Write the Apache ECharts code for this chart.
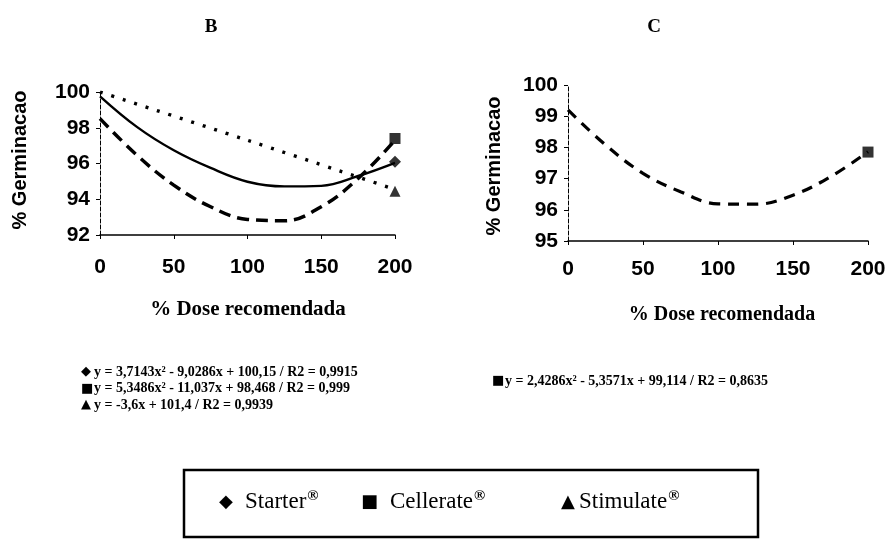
<!DOCTYPE html>
<html><head><meta charset="utf-8">
<script src="https://cdn.jsdelivr.net/npm/echarts@6/dist/echarts.min.js"></script>
<style>html,body{margin:0;padding:0;background:#fff}#c{width:890px;height:540px}</style>
</head><body><div id="c"></div>
<script>
// ---- data ----
const doses = [0, 25, 50, 75, 100, 125, 150, 175, 200];
const starterB = [99.76, 98.05, 96.74, 95.75, 94.98, 94.72, 94.75, 95.3, 96.04];
const cellerateB = [98.51, 96.47, 94.79, 93.58, 92.87, 92.8, 93.58, 95.16, 97.3];
const stimulateDoses = [0, 100, 200];
const stimulateB = [100, 97.3, 94.55];
const cellerateC = [99.2, 98.08, 97.17, 96.58, 96.19, 96.18, 96.47, 97.06, 97.86];
const markerDose = [200];
const starterMarkerB = [96.1];
const cellerateMarkerB = [97.4];
const stimulateMarkerB = [94.45];
const cellerateMarkerC = [97.85];
const yTicksB = [92, 94, 96, 98, 100];
const yTicksC = [95, 96, 97, 98, 99, 100];
const xTicks = [0, 50, 100, 150, 200];
const panelTitles = ['B', 'C'];
const yName = '% Germinacao';
const xName = '% Dose recomendada';
const eqB = [
  ['◆', 'y = 3,7143x² - 9,0286x + 100,15 / R2 = 0,9915'],
  ['■', 'y = 5,3486x² - 11,037x + 98,468 / R2 = 0,999'],
  ['▲', 'y = -3,6x + 101,4 / R2 = 0,9939']
];
const eqC = [['■', 'y = 2,4286x² - 5,3571x + 99,114 / R2 = 0,8635']];
const legendNames = ['Starter', 'Cellerate', 'Stimulate'];
const legendSymbols = ['◆', '■', '▲'];

// ---- build ----
const pairs = (xs, ys) => xs.map((x, i) => [x, ys[i]]);
const sans = 'Liberation Sans, Arial, sans-serif';
const serif = 'Liberation Serif, Times New Roman, serif';

function xAxis(gi, margin) {
  return {
    type: 'value', gridIndex: gi, min: 0, max: 200, interval: 50,
    axisLine: { lineStyle: { color: '#000', width: 1.5 } },
    axisTick: { show: true, length: 4, lineStyle: { color: '#000' } },
    splitLine: { show: false },
    axisLabel: { color: '#000', fontFamily: sans, fontWeight: 'bold', fontSize: 21, margin: margin,
      formatter: v => xTicks.includes(v) ? String(v) : '' }
  };
}
function yAxis(gi, ticks) {
  return {
    type: 'value', gridIndex: gi, min: ticks[0], max: ticks[ticks.length - 1],
    interval: ticks[1] - ticks[0],
    axisLine: { show: true, lineStyle: { color: '#000', width: 1, type: [4, 2] } },
    axisTick: { show: true, length: 4, lineStyle: { color: '#000' } },
    splitLine: { show: false },
    axisLabel: { color: '#000', fontFamily: sans, fontWeight: 'bold', fontSize: 21, margin: 10 }
  };
}
function lineSeries(name, gi, data, style) {
  return { name: name, type: 'line', xAxisIndex: gi, yAxisIndex: gi, data: data, smooth: 0.4,
    showSymbol: false, symbol: 'none', lineStyle: Object.assign({ color: '#000' }, style),
    animation: false, z: 2 };
}
function markSeries(name, gi, data, symbol, size) {
  return { name: name, type: 'scatter', xAxisIndex: gi, yAxisIndex: gi, data: data,
    symbol: symbol, symbolSize: size, itemStyle: { color: '#000' }, animation: false, z: 3 };
}

const graphics = [];
function txt(x, y, text, font, opts) {
  graphics.push({
    type: 'text', x: x, y: y,
    style: Object.assign({ text: text, fill: '#000', font: font, align: 'left', verticalAlign: 'middle' }, opts || {})
  });
}
// titles
txt(211, 27, panelTitles[0], 'bold 19px ' + serif, { align: 'center' });
txt(654, 27, panelTitles[1], 'bold 19px ' + serif, { align: 'center' });
// y names (rotated)
graphics.push({ type: 'text', x: 20, y: 160, rotation: Math.PI / 2,
  style: { text: yName, fill: '#000', font: 'bold 20px ' + sans, align: 'center', verticalAlign: 'middle' } });
graphics.push({ type: 'text', x: 494, y: 166, rotation: Math.PI / 2,
  style: { text: yName, fill: '#000', font: 'bold 20px ' + sans, align: 'center', verticalAlign: 'middle' } });
// x names
txt(248, 310, xName, 'bold 21px ' + serif, { align: 'center' });
txt(722, 315, xName, 'bold 20px ' + serif, { align: 'center' });
// equations
eqB.forEach((e, i) => {
  txt(81, 372 + i * 16.5, e[0], '13px DejaVu Sans', {});
  txt(94, 372 + i * 16.5, e[1], 'bold 14px ' + serif, {});
});
eqC.forEach((e, i) => {
  txt(492, 381 + i * 16.5, e[0], '13px DejaVu Sans', {});
  txt(505, 381 + i * 16.5, e[1], 'bold 14px ' + serif, {});
});
// legend box
graphics.push({ type: 'rect', shape: { x: 184, y: 470, width: 574, height: 67 },
  style: { fill: 'none', stroke: '#000', lineWidth: 2.5 } });
const legX = [[219, 245], [361, 390], [561, 579]];
legendNames.forEach((n, i) => {
  txt(legX[i][0], 502, legendSymbols[i], '18px DejaVu Sans', {});
  graphics.push({ type: 'text', x: legX[i][1], y: 502,
    style: { text: '{a|' + n + '}{s|®}', fill: '#000', font: '23px ' + serif, verticalAlign: 'middle',
      rich: { a: { font: '23px ' + serif, fill: '#000' },
              s: { font: 'bold 15px ' + serif, fill: '#000', verticalAlign: 'top', padding: [0, 0, 12, 1] } } } });
});

const chart = echarts.init(document.getElementById('c'), null, { renderer: 'canvas' });
chart.setOption({
  backgroundColor: '#fff',
  animation: false,
  grid: [
    { left: 100, right: 495, top: 92, bottom: 305 },
    { left: 568, right: 22, top: 85, bottom: 299 }
  ],
  xAxis: [xAxis(0, 22), xAxis(1, 18)],
  yAxis: [yAxis(0, yTicksB), yAxis(1, yTicksC)],
  series: [
    lineSeries('Starter', 0, pairs(doses, starterB), { width: 2.4, type: 'solid' }),
    lineSeries('Cellerate', 0, pairs(doses, cellerateB), { width: 3.5, type: [12, 7] }),
    lineSeries('Stimulate', 0, pairs(stimulateDoses, stimulateB), { width: 3.4, type: [3, 9] }),
    markSeries('Starter', 0, pairs(markerDose, starterMarkerB), 'diamond', 12),
    markSeries('Cellerate', 0, pairs(markerDose, cellerateMarkerB), 'rect', 11),
    markSeries('Stimulate', 0, pairs(markerDose, stimulateMarkerB), 'triangle', 11),
    lineSeries('Cellerate C', 1, pairs(doses, cellerateC), { width: 3.2, type: [11, 8] }),
    markSeries('Cellerate C', 1, pairs(markerDose, cellerateMarkerC), 'rect', 11)
  ],
  graphic: graphics
});
</script></body></html>
